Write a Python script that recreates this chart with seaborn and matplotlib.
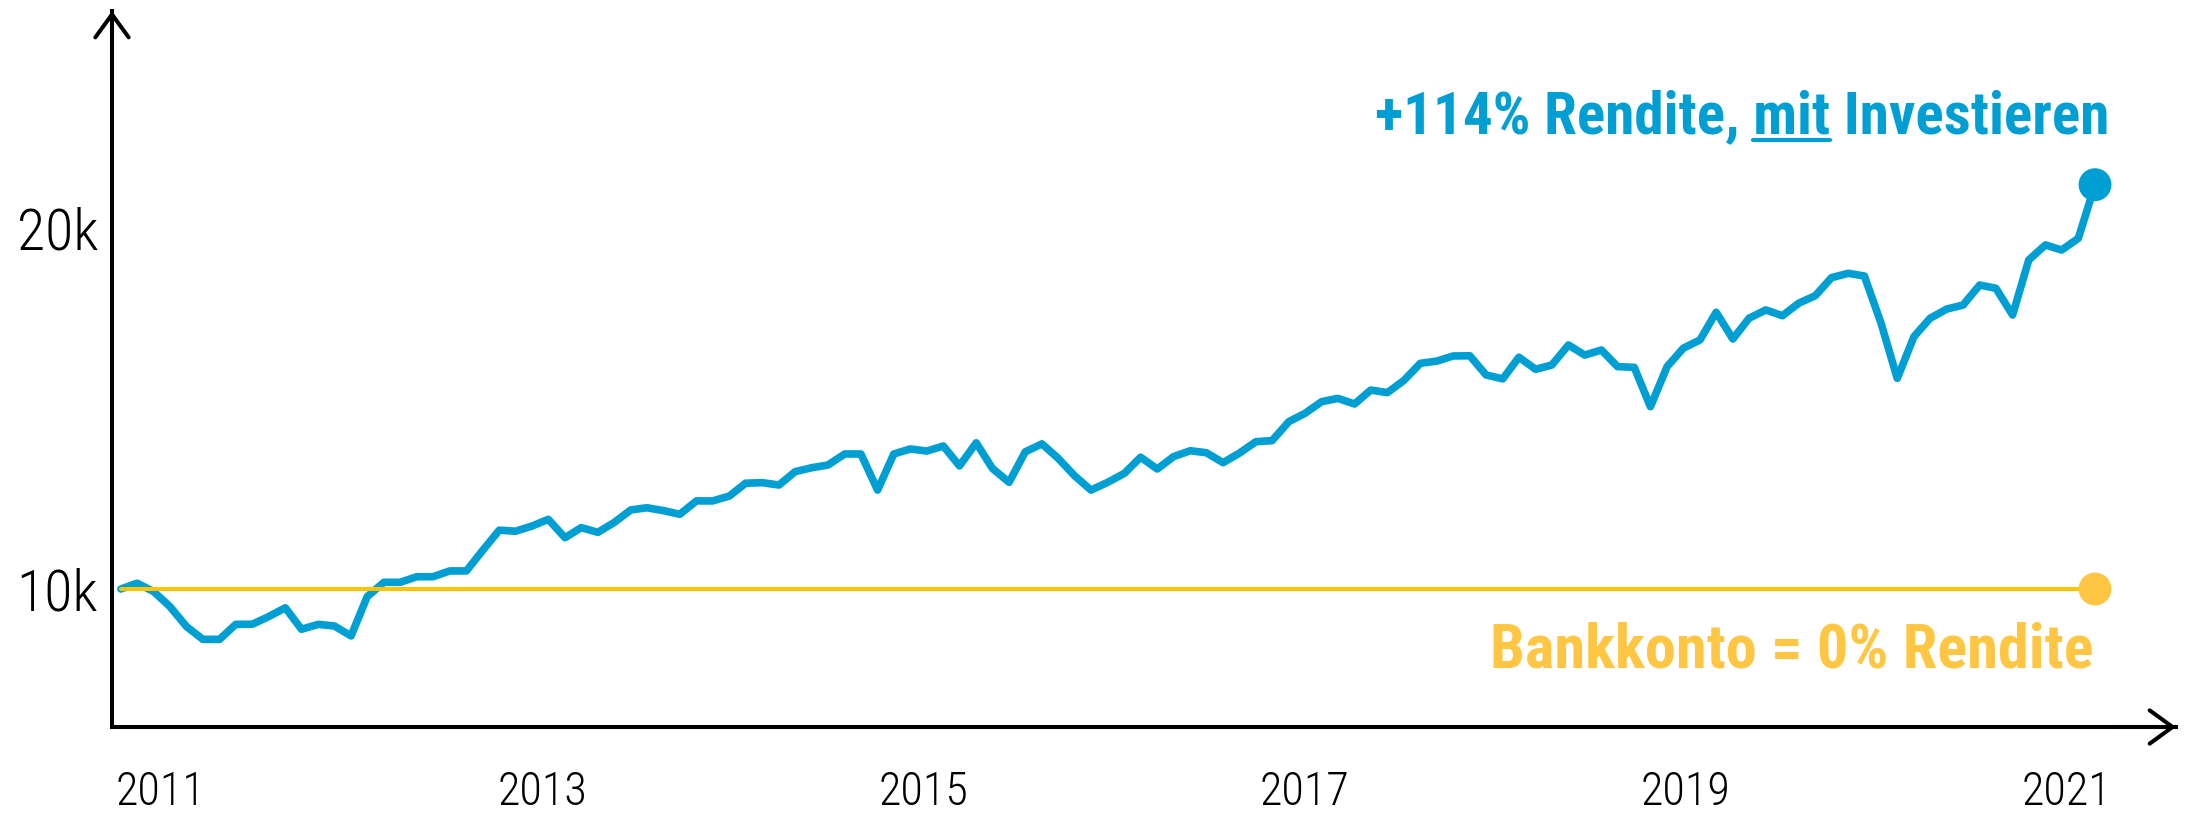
import numpy as np
import pandas as pd
import matplotlib
matplotlib.use("Agg")
import matplotlib.pyplot as plt
from matplotlib import font_manager
from matplotlib.lines import Line2D
import seaborn as sns

# ---------------- data ----------------
invest_values = [
    10000, 10160, 9925, 9510, 8955, 8605, 8605, 9020, 9025, 9235,
    9480, 8885, 9020, 8975, 8700, 9790, 10185, 10185, 10340, 10340,
    10500, 10500, 11065, 11630, 11600, 11745, 11930, 11420, 11700, 11570,
    11840, 12190, 12250, 12170, 12070, 12440, 12440, 12575, 12930, 12945,
    12880, 13250, 13360, 13435, 13740, 13740, 12740, 13740, 13880, 13820,
    13960, 13410, 14050, 13340, 12955, 13800, 14020, 13620, 13130, 12740,
    12955, 13205, 13650, 13325, 13665, 13830, 13775, 13500, 13760, 14080,
    14110, 14635, 14865, 15190, 15280, 15125, 15510, 15440, 15770, 16250,
    16315, 16455, 16460, 15930, 15820, 16420, 16085, 16205, 16760, 16480,
    16620, 16160, 16140, 15050, 16160, 16670, 16900, 17665, 16925, 17500,
    17730, 17570, 17915, 18125, 18625, 18745, 18670, 17360, 15835, 16990,
    17500, 17755, 17865, 18420, 18330, 17590, 19115, 19530, 19390, 19715,
    21200,
]
bank_value = 10000
start_date = "2010-10-16"
end_date = "2021-02-23"
year_ticks = [2011, 2013, 2015, 2017, 2019, 2021]
year_labels = ["2011", "2013", "2015", "2017", "2019", "2021"]
value_ticks = [10000, 20000]
value_labels = ["10k", "20k"]
invest_parts = ["+114% Rendite,", "mit", "Investieren"]
bank_label = "Bankkonto = 0% Rendite"

BLUE = "#009FD3"
YELLOW_LINE = "#FFC300"
YELLOW = "#FEC643"

# ---------------- style ----------------
sns.set_theme(style="white")
available = {f.name for f in font_manager.fontManager.ttflist}
cands = ["Roboto Condensed", "Liberation Sans Narrow", "DejaVu Sans Condensed",
         "Open Sans Condensed", "Lato"]
family = next((c for c in cands if c in available), "DejaVu Sans")
plt.rcParams["font.family"] = [family, "DejaVu Sans"]

W, H = 2193, 817
fig = plt.figure(figsize=(W / 100, H / 100), dpi=100)
ax = fig.add_axes([112 / W, 1 - 727 / H, (2176 - 112) / W, (727 - 11) / H])

dates = pd.date_range(start_date, end_date, periods=len(invest_values))
t = 2000 + (dates - pd.Timestamp("2000-01-01")).days.values / 365.25
df = pd.DataFrame({"t": t, "invest": invest_values, "bank": bank_value})

sns.lineplot(data=df, x="t", y="invest", ax=ax, color=BLUE, linewidth=5.5, zorder=3)
sns.lineplot(data=df, x="t", y="bank", ax=ax, color=YELLOW_LINE, linewidth=2.9, zorder=4)
last = df.iloc[[-1]]
sns.scatterplot(data=last, x="t", y="invest", ax=ax, color=BLUE, s=560,
                edgecolor="none", linewidth=0, zorder=6, clip_on=False)
sns.scatterplot(data=last, x="t", y="bank", ax=ax, color=YELLOW, s=560,
                edgecolor="none", linewidth=0, zorder=6, clip_on=False)

ax.set_xlim(2010.743, 2021.572)
ax.set_ylim(6177, 26011)
ax.set_xlabel("")
ax.set_ylabel("")
ax.grid(False)
for s in ["top", "right"]:
    ax.spines[s].set_visible(False)
for s in ["left", "bottom"]:
    ax.spines[s].set_color("black")
    ax.spines[s].set_linewidth(2.9)

renderer = fig.canvas.get_renderer()


def text_width(s, **kw):
    tt = fig.text(0, 0, s, **kw)
    w = tt.get_window_extent(renderer).width
    tt.remove()
    return w


light = dict(fontweight="light")
fs_year = 10 * 90 / text_width("2011", fontsize=10, **light)
fs_val = 10 * 82 / text_width("20k", fontsize=10, **light)
ax.set_xticks(year_ticks, year_labels)
ax.set_yticks(value_ticks, value_labels)
ax.tick_params(axis="x", length=0, labelsize=fs_year, pad=31, colors="black")
ax.tick_params(axis="y", length=0, labelsize=fs_val, pad=10, colors="black")
for lab in ax.get_xticklabels() + ax.get_yticklabels():
    lab.set_fontweight("light")

# axis arrows
arrow_kw = dict(arrowstyle="->,head_length=0.55,head_width=0.4", lw=2.9, color="black",
                mutation_scale=30, shrinkA=0, shrinkB=0)
ax.annotate("", xy=(0, 1), xycoords="axes fraction", xytext=(0, 0.9),
            arrowprops=arrow_kw, annotation_clip=False)
ax.annotate("", xy=(1, 0), xycoords="axes fraction", xytext=(0.97, 0),
            arrowprops=arrow_kw, annotation_clip=False)

# labels
invest_label = " ".join(invest_parts)
bold = dict(fontweight="bold")
fs_inv = 10 * 736 / text_width(invest_label, fontsize=10, **bold)
fs_bank = 10 * 603 / text_width(bank_label, fontsize=10, **bold)

x_right_inv = 2109
fig.text(x_right_inv / W, 1 - 133 / H, invest_label, ha="right", va="baseline",
         color=BLUE, fontsize=fs_inv, **bold)
fig.text(2094 / W, 1 - 667 / H, bank_label, ha="right", va="baseline",
         color=YELLOW, fontsize=fs_bank, **bold)

# underline "mit"
w_tail = text_width(invest_parts[2], fontsize=fs_inv, **bold)
w_mid = text_width(invest_parts[1], fontsize=fs_inv, **bold)
w_mid_tail = text_width(invest_parts[1] + " " + invest_parts[2], fontsize=fs_inv, **bold)
space = w_mid_tail - w_mid - w_tail
mit_end = x_right_inv - w_tail - space
mit_start = mit_end - w_mid
uy = 1 - 140 / H
fig.add_artist(Line2D([mit_start / W, mit_end / W], [uy, uy], transform=fig.transFigure,
                      color=BLUE, linewidth=3))

fig.savefig("out.png", dpi=100)
